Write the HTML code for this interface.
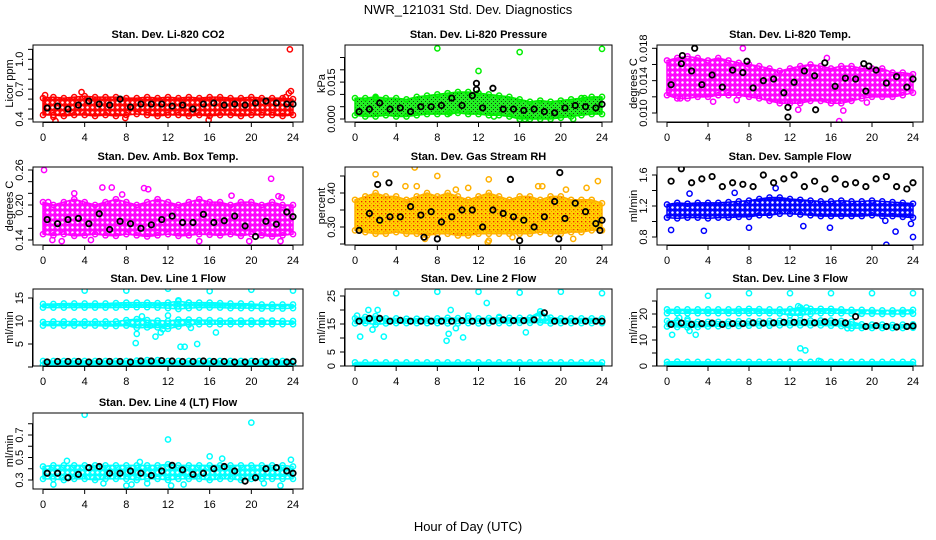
<!DOCTYPE html>
<html><head><meta charset="utf-8"><style>
html,body{margin:0;padding:0;background:#fff;}
svg{display:block;font-family:"Liberation Sans",Arial,sans-serif;}
</style></head><body>
<svg id="chart" xmlns="http://www.w3.org/2000/svg" width="936" height="540" viewBox="0 0 936 540">
<defs id="defs">
<pattern id="pg" width="4" height="4" patternUnits="userSpaceOnUse"><rect width="4" height="4" fill="#22ee22"/><rect x="1" y="1" width="1" height="1" fill="#114411"/><rect x="3" y="3" width="1" height="1" fill="#114411"/></pattern>
<pattern id="po" width="4" height="4" patternUnits="userSpaceOnUse"><rect width="4" height="4" fill="#ffd000"/><rect x="1" y="1" width="1.3" height="1.3" fill="#ee2200"/><rect x="3" y="3" width="1" height="1" fill="#ff8800"/></pattern>
</defs>
<text x="468" y="14" text-anchor="middle" font-size="13">NWR_121031 Std. Dev. Diagnostics</text>
<text x="468" y="531" text-anchor="middle" font-size="13">Hour of Day (UTC)</text>
</svg>
<script>
const hours=[0,1,2,3,4,5,6,7,8,9,10,11,12,13,14,15,16,17,18,19,20,21,22,23,24];
const xTicks=[0,4,8,12,16,20,24];
// P1 CO2
const co2Lo=[0.44,0.44,0.43,0.44,0.44,0.43,0.44,0.43,0.44,0.45,0.44,0.43,0.44,0.44,0.43,0.44,0.43,0.44,0.44,0.43,0.44,0.44,0.44,0.43,0.44];
const co2Hi=[0.61,0.62,0.61,0.62,0.63,0.62,0.62,0.62,0.61,0.61,0.62,0.61,0.62,0.61,0.62,0.61,0.62,0.62,0.61,0.61,0.62,0.61,0.61,0.61,0.60];
const co2Black=[0.51,0.53,0.50,0.54,0.58,0.55,0.54,0.60,0.52,0.55,0.55,0.55,0.53,0.54,0.50,0.55,0.56,0.54,0.55,0.54,0.56,0.58,0.56,0.55,0.55];
const co2OutX=[23.7,23.8,23.6,1.2,15.9,0.2,3.7,23.3,1.0,7.9];
const co2OutY=[1.10,0.68,0.66,0.38,0.39,0.64,0.67,0.62,0.42,0.41];
// P2 pressure
const prLo=[0.0015,0.001,0.001,0.0015,0.001,0.001,0.0015,0.002,0.002,0.002,0.0025,0.002,0.002,0.0015,0.0015,0.001,0,0,0,0,0.0005,0.001,0.0015,0.002,0.002];
const prHi=[0.0085,0.0085,0.009,0.0085,0.0085,0.008,0.009,0.0095,0.01,0.0105,0.011,0.011,0.0105,0.01,0.0095,0.009,0.008,0.007,0.0075,0.007,0.0075,0.008,0.0085,0.009,0.009];
const prBlack=[0.003,0.004,0.0065,0.004,0.0045,0.003,0.005,0.005,0.0055,0.0085,0.0055,0.0095,0.0045,0.0125,0.004,0.004,0.0035,0.004,0.003,0.0025,0.0045,0.0055,0.005,0.0045,0.006];
const prOutX=[8,16,24,12,2,22.3,9.2,13.5,16.5,21.2];
const prOutY=[0.0287,0.0272,0.0285,0.0195,0.0085,0.0085,0.0025,0.001,0,0];
const prBOutX=[11.8,11.8];
const prBOutY=[0.0145,0.012];
// P3 Li-820 temp
const tLo=[0.0122,0.0118,0.0118,0.012,0.012,0.0122,0.0122,0.0122,0.012,0.0118,0.0115,0.0112,0.0112,0.0112,0.0115,0.0115,0.0112,0.0112,0.0115,0.0118,0.012,0.012,0.012,0.0122,0.0125];
const tHi=[0.0165,0.0168,0.017,0.0168,0.0165,0.0168,0.0165,0.0162,0.016,0.0158,0.0155,0.0152,0.0155,0.0158,0.016,0.0158,0.0155,0.0158,0.0158,0.0155,0.0155,0.0155,0.015,0.015,0.0148];
const tBlack=[0.0135,0.0161,0.0152,0.0135,0.0147,0.0132,0.0153,0.0150,0.0131,0.0140,0.0142,0.0125,0.0138,0.0152,0.0146,0.0162,0.0133,0.0143,0.0142,0.0127,0.0153,0.0137,0.0145,0.0132,0.0142];
const tOutX=[7.4,16.8,17.2,12.8,1.3,0.2,4.5,6.8,15.6,19.5];
const tOutY=[0.018,0.009,0.0103,0.0104,0.0118,0.0128,0.0114,0.0116,0.0168,0.0113];
const tBOutX=[2.7,1.5,11.8,11.8,14.5,19.2,19.7,7.8];
const tBOutY=[0.018,0.0171,0.0095,0.0107,0.0104,0.0161,0.0158,0.0164];
// P4 amb box temp
const aLo=[0.15,0.148,0.15,0.147,0.148,0.15,0.148,0.147,0.15,0.148,0.146,0.148,0.15,0.147,0.148,0.15,0.149,0.148,0.15,0.147,0.15,0.148,0.146,0.148,0.15];
const aHi=[0.205,0.2,0.205,0.21,0.205,0.2,0.205,0.21,0.205,0.2,0.205,0.21,0.205,0.2,0.205,0.21,0.205,0.205,0.2,0.205,0.205,0.2,0.205,0.2,0.2];
const aBlack=[0.175,0.168,0.175,0.177,0.168,0.185,0.158,0.172,0.168,0.160,0.166,0.175,0.181,0.170,0.170,0.184,0.170,0.173,0.181,0.164,0.146,0.172,0.167,0.188,0.180];
const aOutX=[0.1,5.7,6.6,9.7,10.1,21.9,22.6,22.9,18.1,0.9,4.6,1.8,19.8,22.8,15,0.5,3,7.6];
const aOutY=[0.26,0.23,0.23,0.229,0.227,0.245,0.215,0.213,0.216,0.14,0.14,0.138,0.138,0.138,0.138,0.205,0.22,0.218];
// P5 RH
const rLo=[0.29,0.285,0.28,0.28,0.285,0.28,0.28,0.275,0.28,0.28,0.275,0.275,0.28,0.28,0.28,0.28,0.28,0.28,0.285,0.28,0.28,0.285,0.285,0.29,0.29];
const rHi=[0.38,0.39,0.40,0.39,0.39,0.38,0.39,0.40,0.39,0.40,0.39,0.38,0.39,0.40,0.39,0.38,0.39,0.39,0.38,0.39,0.39,0.38,0.38,0.38,0.37];
const rBlack=[0.29,0.34,0.32,0.33,0.33,0.36,0.335,0.345,0.315,0.33,0.35,0.35,0.30,0.35,0.34,0.33,0.32,0.30,0.33,0.375,0.325,0.37,0.345,0.31,0.32];
const rOutX=[2,5.8,8,9.8,4.9,6,11,13,17.8,18.2,20.5,22.5,23.6,6.8,13,12.9,15.3,21.2];
const rOutY=[0.455,0.475,0.45,0.41,0.42,0.42,0.415,0.44,0.42,0.42,0.41,0.415,0.435,0.265,0.26,0.255,0.27,0.265];
const rBOutX=[2.2,3.3,15.1,19.9,8,6.7,16,19.8,23.8];
const rBOutY=[0.425,0.43,0.44,0.46,0.265,0.27,0.26,0.265,0.29];
// P6 sample flow
const fLo=[1.05,1.04,1.05,1.05,1.04,1.05,1.05,1.06,1.06,1.08,1.08,1.1,1.1,1.09,1.08,1.07,1.07,1.07,1.07,1.07,1.08,1.07,1.07,1.06,1.05];
const fHi=[1.22,1.24,1.23,1.24,1.24,1.24,1.25,1.26,1.27,1.29,1.31,1.31,1.29,1.28,1.27,1.26,1.26,1.27,1.26,1.26,1.27,1.26,1.25,1.24,1.23];
const fBlack=[1.52,1.68,1.5,1.55,1.58,1.45,1.5,1.48,1.45,1.6,1.5,1.55,1.6,1.45,1.52,1.42,1.55,1.48,1.5,1.45,1.55,1.58,1.45,1.42,1.5];
const fOutX=[0.4,3.6,8,13.3,15.9,21.3,22.3,23.8,24,21.4,2.2,6.6,10.6];
const fOutY=[0.89,0.88,0.92,0.94,0.92,1.01,0.87,0.97,0.8,0.7,1.36,1.37,1.43];
// P7 line 1
const l1ALo=[12.9,12.9,12.9,12.9,12.9,12.9,12.9,12.9,13.0,13.0,13.0,12.9,12.8,12.6,12.8,12.9,12.9,12.9,12.8,12.8,12.8,12.7,12.7,12.7,12.8];
const l1AHi=[13.7,13.7,13.8,13.8,13.8,13.8,13.8,13.9,14.0,14.0,14.0,13.9,14.0,14.3,14.0,14.0,14.0,13.9,13.8,13.8,13.7,13.6,13.6,13.6,13.6];
const l1BLo=[9.0,9.0,9.0,9.0,9.0,9.0,8.9,8.9,9.0,8.5,8.6,8.6,8.3,8.8,9.2,9.3,9.3,9.3,9.3,9.3,9.3,9.3,9.3,9.3,9.3];
const l1BHi=[9.8,9.9,9.9,9.9,9.9,9.9,9.9,9.9,10.2,10.4,10.2,10.1,10.0,10.3,10.3,10.2,10.2,10.1,10.1,10.1,10.1,10.1,10.1,10.0,10.0];
const l1CLo=[0.4,0.4,0.4,0.4,0.4,0.4,0.4,0.4,0.4,0.4,0.4,0.4,0.4,0.4,0.4,0.4,0.4,0.4,0.4,0.4,0.4,0.4,0.4,0.4,0.4];
const l1CHi=[1.3,1.3,1.3,1.3,1.3,1.3,1.3,1.3,1.3,1.4,1.5,1.5,1.3,1.3,1.3,1.3,1.3,1.3,1.3,1.3,1.3,1.3,1.3,1.3,1.3];
const l1Black=[1.1,1.2,1.2,1.2,1.1,1.2,1.2,1.2,1.1,1.3,1.3,1.4,1.3,1.2,1.2,1.3,1.2,1.2,1.1,1.1,1.2,1.1,1.1,1.1,1.2];
const l1OutX=[4,8,12,16,20,24,8.9,9,9.5,10.3,10.8,11.3,11.5,13.2,13.6,14.2,14.8,16.6,12,13,14];
const l1OutY=[16.6,16.6,17,16.5,16.8,16.6,5.2,7.2,11,9,6.6,7.5,8.2,4.4,4.4,8.5,5,7.5,11.2,14.5,14];
// P8 line 2
const l2ALo=[15.2,15.3,14.8,15.2,15.3,15.3,15.3,15.3,15.3,15.2,15.2,15.3,15.2,15.3,15.3,15.3,15.4,15.4,15.5,15.2,15.3,15.3,15.3,15.3,15.3];
const l2AHi=[17.0,17.5,17.8,17.0,17.0,16.9,16.9,16.9,17.0,17.2,17.1,17.0,17.0,17.1,17.2,17.2,17.2,17.3,19.5,17.3,17.0,17.0,17.0,17.0,17.0];
const l2BLo=[0,0,0,0,0,0,0,0,0,0,0,0,0,0,0,0,0,0,0,0,0,0,0,0,0];
const l2BHi=[1.3,1.3,1.3,1.3,1.3,1.3,1.3,1.3,1.3,1.3,1.3,1.3,1.3,1.3,1.3,1.3,1.3,1.3,1.3,1.3,1.3,1.3,1.3,1.3,1.3];
const l2Black=[16,17,17,16,16.3,16,16,16,16,16,16.2,16,16,16,16.5,16.2,16.2,16.5,19,16,16,16,16,16,16];
const l2OutX=[4,8,12,16,20,24,0.2,0.5,1.3,2.2,2.8,1.7,8.9,9.1,9.3,9.8,10.5,11,12.8,16.6,14];
const l2OutY=[26,26.5,26.5,26.2,26.5,26,18,10.5,20,20,10.5,13,9,11.5,20,13.5,10.2,18,22.5,12,17.5];
// P9 line 3
const l3ALo=[20.3,20.3,20.3,20.3,20.3,20.3,20.3,20.3,20.3,20.3,20.3,20.2,19.5,19.5,20.0,20.3,20.3,20.3,20.2,20.1,20.1,20.0,20.0,20.0,20.1];
const l3AHi=[21.8,21.8,21.8,21.8,21.8,21.8,21.8,21.9,22.0,21.9,21.8,21.8,21.9,22.5,22.0,22.0,22.0,21.8,21.6,21.6,21.5,21.4,21.4,21.5,21.6];
const l3BLo=[15.2,15.0,14.8,15.0,15.2,15.3,15.4,15.4,15.5,15.5,15.5,15.6,15.6,15.6,15.6,15.6,15.5,15.4,14.5,14.6,14.6,14.6,14.6,14.6,14.7];
const l3BHi=[17.3,17.5,17.3,17.0,17.0,17.0,17.1,17.2,17.2,17.2,17.3,17.4,17.5,17.6,17.5,17.5,17.5,17.3,17.0,16.0,15.9,15.9,15.8,15.9,16.0];
const l3CLo=[0.5,0.5,0.5,0.5,0.5,0.5,0.5,0.5,0.5,0.5,0.5,0.5,0.5,0.5,0.5,0.5,0.5,0.5,0.5,0.5,0.5,0.5,0.5,0.5,0.5];
const l3CHi=[1.6,1.7,1.6,1.6,1.6,1.6,1.6,1.6,1.6,1.6,1.6,1.6,1.6,1.6,1.6,1.7,1.6,1.6,1.6,1.6,1.6,1.6,1.6,1.6,1.6];
const l3Black=[16,16.5,16,16.3,16.5,16,16.3,16.3,16.6,16.5,16.6,16.8,16.8,16.8,16.6,17,16.8,16.6,19,15.2,15.5,15.2,15,15.2,15.4];
const l3OutX=[4,8,12,16,20,24,0.5,2.2,2.8,13,13.5,14.8,12.8,13.1,13.6,17.6,2,1.2];
const l3OutY=[27,28,28,28,28,28,12,13.5,12,6.8,6,2,23,21.8,22.5,14.5,18,18.5];
// P10 line 4
const l4Lo=[0.31,0.31,0.30,0.31,0.31,0.30,0.31,0.31,0.31,0.30,0.31,0.31,0.30,0.31,0.31,0.31,0.30,0.31,0.31,0.30,0.31,0.31,0.31,0.31,0.31];
const l4Hi=[0.42,0.43,0.43,0.43,0.43,0.43,0.43,0.43,0.43,0.43,0.43,0.43,0.44,0.43,0.43,0.43,0.43,0.43,0.43,0.43,0.43,0.43,0.43,0.43,0.42];
const l4Black=[0.36,0.36,0.32,0.35,0.41,0.42,0.36,0.36,0.38,0.36,0.34,0.38,0.43,0.39,0.35,0.36,0.40,0.42,0.38,0.29,0.32,0.40,0.41,0.38,0.36];
const l4OutX=[4,20,12,16,17.2,2.3,23.8,1,5.8,10,12.3,13.5,8.5,21.2,22.8,8,9.3];
const l4OutY=[0.88,0.81,0.66,0.51,0.49,0.47,0.48,0.26,0.27,0.27,0.25,0.26,0.26,0.27,0.25,0.25,0.46];

const NS='http://www.w3.org/2000/svg';
const svg=document.getElementById('chart');
const defs=document.getElementById('defs');
function mk(tag,attrs,parent){const e=document.createElementNS(NS,tag);for(const k in attrs)e.setAttribute(k,attrs[k]);(parent||svg).appendChild(e);return e;}
// ring-texture patterns
function ringPattern(id,color){
  const p=mk('pattern',{id:id,width:5,height:5,patternUnits:'userSpaceOnUse'},defs);
  mk('rect',{width:5,height:5,fill:'#fff'},p);
  mk('circle',{cx:2.5,cy:2.5,r:2,fill:'none',stroke:color,'stroke-width':1.4},p);
  mk('circle',{cx:0,cy:0,r:1.2,fill:color},p);
  mk('circle',{cx:5,cy:5,r:1.2,fill:color},p);
  mk('circle',{cx:0,cy:5,r:1.2,fill:color},p);
  mk('circle',{cx:5,cy:0,r:1.2,fill:color},p);
}
const cols=[{x0:43,x24:293,l:33,r:303,tl:23,yl:9},{x0:355,x24:602,l:345,r:612,tl:335,yl:321},{x0:667,x24:913,l:657,r:923,tl:647,yl:633}];
const rows=[{t:45,b:122},{t:167,b:245},{t:289,b:366},{t:413,b:489}];

function panel(p){
  const c=cols[p.col],rw=rows[p.row];
  const g=mk('g',{});
  
  
  const X=v=>c.x0+(v/24)*(c.x24-c.x0);
  const Y=v=>p.ym[1]+(v-p.ym[0])*(p.ym[3]-p.ym[1])/(p.ym[2]-p.ym[0]);
  const clip='clip'+p.name;
  const cp=mk('clipPath',{id:clip},g);mk('rect',{x:c.l,y:rw.t,width:c.r-c.l,height:rw.b-rw.t},cp);
  const data=mk('g',{'clip-path':'url(#'+clip+')'},g);
  p.bands.forEach((bd,bi)=>{
    let pts=hours.map((h,i)=>X(h)+','+Y(bd.hi[i]));
    pts=pts.concat(hours.slice().reverse().map((h,j)=>{const i=hours.length-1-j;return X(h)+','+Y(bd.lo[i]);}));
    const poly=mk('polygon',{points:pts.join(' '),fill:bd.fill,stroke:bd.color,'stroke-width':1.5,'stroke-linejoin':'round'},data);
    
    
    hours.forEach((h,i)=>{
      [bd.lo[i],bd.hi[i]].forEach(v=>{
        const m=mk('circle',{cx:X(h),cy:Y(v),r:2.6,fill:'none',stroke:bd.color,'stroke-width':1.5},data);
        
        
      });
    });
  });
  p.outX.forEach((x,i)=>{
    const m=mk('circle',{cx:X(x),cy:Y(p.outY[i]),r:2.6,fill:'none',stroke:p.color,'stroke-width':1.5},data);
    
    
  });
  hours.forEach((h,i)=>{
    const m=mk('circle',{cx:X(h+0.4>24?24:h+0.4),cy:Y(p.black[i]),r:2.7,fill:'none',stroke:'#000','stroke-width':1.8},data);
    
    
  });
  (p.bx||[]).forEach((x,i)=>{
    const m=mk('circle',{cx:X(x),cy:Y(p.by[i]),r:2.7,fill:'none',stroke:'#000','stroke-width':1.8},data);
    
    
  });
  const bx=mk('rect',{x:c.l,y:rw.t,width:c.r-c.l,height:rw.b-rw.t,fill:'none',stroke:'#000','stroke-width':1},g);
  
  
  mk('line',{x1:X(0),x2:X(24),y1:rw.b+0.5,y2:rw.b+0.5,stroke:'#000'},g);
  xTicks.forEach(t=>{
    mk('line',{x1:X(t),x2:X(t),y1:rw.b,y2:rw.b+5,stroke:'#000'},g);
    const tx=mk('text',{x:X(t),y:rw.b+19,'text-anchor':'middle','font-size':11},g);tx.textContent=t;
    
    
  });
  const yt=p.yTicks;
  mk('line',{x1:c.l-0.5,x2:c.l-0.5,y1:Y(yt[0]),y2:Y(yt[yt.length-1]),stroke:'#000'},g);
  yt.forEach(t=>mk('line',{x1:c.l-5,x2:c.l,y1:Y(t),y2:Y(t),stroke:'#000'},g));
  p.yLabels.forEach(t=>{
    const tx=mk('text',{x:c.tl,y:Y(parseFloat(t)),'text-anchor':'middle','font-size':11,transform:'rotate(-90 '+c.tl+' '+Y(parseFloat(t))+')'},g);
    tx.textContent=t;
    
    
  });
  const yc=(rw.t+rw.b)/2;
  const yl=mk('text',{x:c.yl+4,y:yc,'text-anchor':'middle','font-size':11,transform:'rotate(-90 '+(c.yl+4)+' '+yc+')'},g);
  yl.textContent=p.ylab;
  
  
  const tt=mk('text',{x:(c.l+c.r)/2,y:rw.t-7,'text-anchor':'middle','font-size':11,'font-weight':'bold'},g);
  tt.textContent=p.title;
  
  
}
const R='#ff0000',G='#00ee00',M='#ff00ff',O='#ffb000',B='#0000ff',C='#00ffff';
ringPattern('pr',R);ringPattern('pm',M);ringPattern('pb',B);ringPattern('pc',C);
panel({name:'panel-co2',col:0,row:0,title:'Stan. Dev. Li-820 CO2',ylab:'Licor ppm',ym:[0.4,119,1.0,59.3],yTicks:[0.4,0.5,0.6,0.7,0.8,0.9,1.0,1.1],yLabels:['0.4','0.7','1.0'],color:R,bands:[{lo:co2Lo,hi:co2Hi,color:R,fill:'url(#pr)'}],black:co2Black,outX:co2OutX,outY:co2OutY});
panel({name:'panel-pressure',col:1,row:0,title:'Stan. Dev. Li-820 Pressure',ylab:'kPa',ym:[0,119,0.025,57.5],yTicks:[0,0.005,0.01,0.015,0.02,0.025],yLabels:['0.000','0.015'],color:G,bands:[{lo:prLo,hi:prHi,color:G,fill:'url(#pg)'}],black:prBlack,outX:prOutX,outY:prOutY,bx:prBOutX,by:prBOutY});
panel({name:'panel-li820-temp',col:2,row:0,title:'Stan. Dev. Li-820 Temp.',ylab:'degrees C',ym:[0.010,113,0.018,48.3],yTicks:[0.010,0.012,0.014,0.016,0.018],yLabels:['0.010','0.014','0.018'],color:M,bands:[{lo:tLo,hi:tHi,color:M,fill:'url(#pm)'}],black:tBlack,outX:tOutX,outY:tOutY,bx:tBOutX,by:tBOutY});
panel({name:'panel-amb-temp',col:0,row:1,title:'Stan. Dev. Amb. Box Temp.',ylab:'degrees C',ym:[0.14,240,0.26,170],yTicks:[0.14,0.16,0.18,0.20,0.22,0.24,0.26],yLabels:['0.14','0.20','0.26'],color:M,bands:[{lo:aLo,hi:aHi,color:M,fill:'url(#pm)'}],black:aBlack,outX:aOutX,outY:aOutY});
panel({name:'panel-rh',col:1,row:1,title:'Stan. Dev. Gas Stream RH',ylab:'percent',ym:[0.30,227,0.40,193],yTicks:[0.25,0.30,0.35,0.40,0.45],yLabels:['0.30','0.40'],color:O,bands:[{lo:rLo,hi:rHi,color:O,fill:'url(#po)'}],black:rBlack,outX:rOutX,outY:rOutY,bx:rBOutX,by:rBOutY});
panel({name:'panel-sample-flow',col:2,row:1,title:'Stan. Dev. Sample Flow',ylab:'ml/min',ym:[0.8,237,1.6,175],yTicks:[0.8,1.0,1.2,1.4,1.6],yLabels:['0.8','1.2','1.6'],color:B,bands:[{lo:fLo,hi:fHi,color:B,fill:'url(#pb)'}],black:fBlack,outX:fOutX,outY:fOutY});
panel({name:'panel-line1',col:0,row:2,title:'Stan. Dev. Line 1 Flow',ylab:'ml/min',ym:[0,367,15,298],yTicks:[0,5,10,15],yLabels:['5','10','15'],color:C,bands:[{lo:l1ALo,hi:l1AHi,color:C,fill:'url(#pc)'},{lo:l1BLo,hi:l1BHi,color:C,fill:'url(#pc)'},{lo:l1CLo,hi:l1CHi,color:C,fill:C}],black:l1Black,outX:l1OutX,outY:l1OutY});
panel({name:'panel-line2',col:1,row:2,title:'Stan. Dev. Line 2 Flow',ylab:'ml/min',ym:[0,366,25,296],yTicks:[0,5,10,15,20,25],yLabels:['0','5','15','25'],color:C,bands:[{lo:l2ALo,hi:l2AHi,color:C,fill:'url(#pc)'},{lo:l2BLo,hi:l2BHi,color:C,fill:C}],black:l2Black,outX:l2OutX,outY:l2OutY});
panel({name:'panel-line3',col:2,row:2,title:'Stan. Dev. Line 3 Flow',ylab:'ml/min',ym:[0,366,20,314],yTicks:[0,5,10,15,20,25],yLabels:['0','10','20'],color:C,bands:[{lo:l3ALo,hi:l3AHi,color:C,fill:'url(#pc)'},{lo:l3BLo,hi:l3BHi,color:C,fill:'url(#pc)'},{lo:l3CLo,hi:l3CHi,color:C,fill:C}],black:l3Black,outX:l3OutX,outY:l3OutY});
panel({name:'panel-line4',col:0,row:3,title:'Stan. Dev. Line 4 (LT) Flow',ylab:'ml/min',ym:[0.3,480,0.7,435],yTicks:[0.3,0.4,0.5,0.6,0.7,0.8],yLabels:['0.3','0.5','0.7'],color:C,bands:[{lo:l4Lo,hi:l4Hi,color:C,fill:'url(#pc)'}],black:l4Black,outX:l4OutX,outY:l4OutY});
</script>
</body></html>
